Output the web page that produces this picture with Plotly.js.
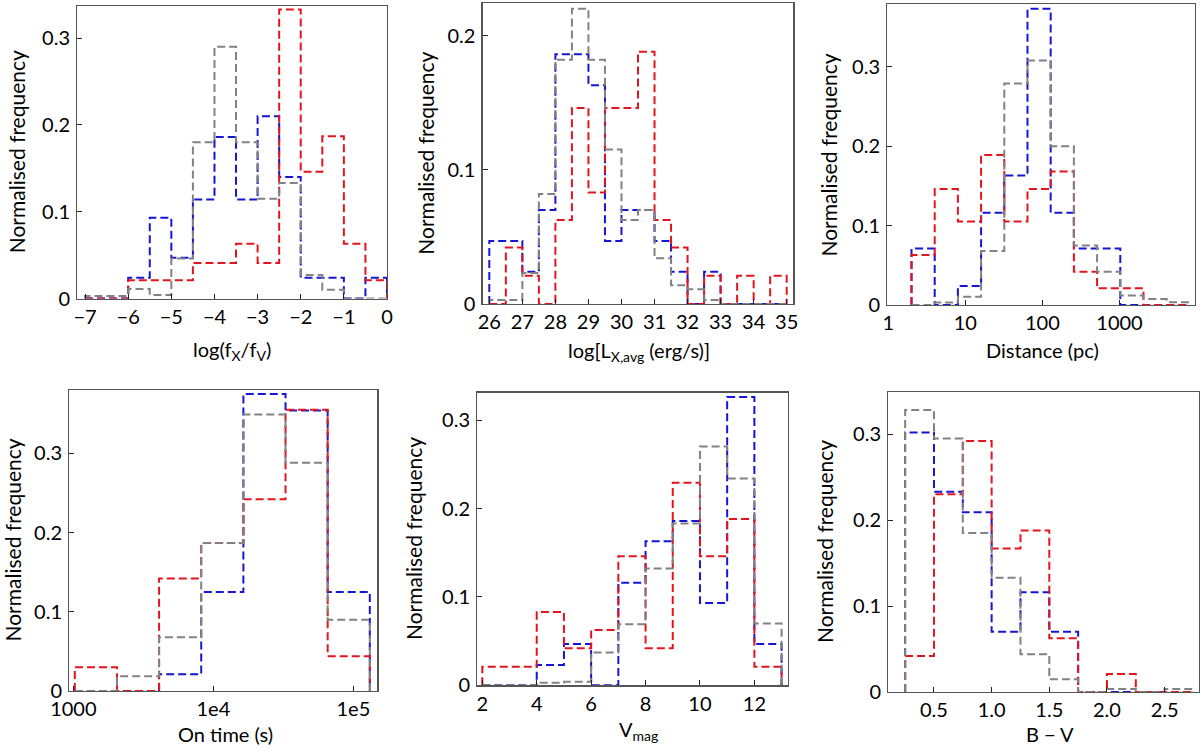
<!DOCTYPE html>
<html>
<head>
<meta charset="utf-8">
<script src="https://cdn.plot.ly/plotly-3.0.1.min.js"></script>
<style>html,body{margin:0;padding:0;background:#fff}#chart{width:1200px;height:748px}</style>
</head>
<body>
<div id="chart"></div>
<script>
// ---------- Panel 1: log(fX/fV) ----------
const fxfvEdges = [-7,-6.5,-6,-5.5,-5,-4.5,-4,-3.5,-3,-2.5,-2,-1.5,-1,-0.5,0];
const fxfvBlue  = [0,0,0.024,0.093,0.047,0.114,0.186,0.114,0.21,0.14,0.024,0.024,0,0.024];
const fxfvRed   = [0,0,0.021,0.021,0.021,0.041,0.041,0.063,0.041,0.333,0.146,0.187,0.063,0.021];
const fxfvGray  = [0.003,0.003,0.011,0.004,0.046,0.18,0.29,0.18,0.115,0.133,0.027,0.01,0,0];

// ---------- Panel 2: log L_X,avg ----------
const lxEdges = [26,26.5,27,27.5,28,28.5,29,29.5,30,30.5,31,31.5,32,32.5,33,33.5,34,34.5,35];
const lxBlue  = [0.047,0.047,0.024,0.07,0.186,0.186,0.163,0.047,0.07,0.07,0.047,0.024,0,0.024,0,0,0,0];
const lxRed   = [0,0.042,0.021,0,0.0625,0.146,0.083,0.146,0.146,0.188,0.0625,0.042,0,0.021,0,0.021,0,0.021];
const lxGray  = [0.003,0.003,0.023,0.082,0.182,0.22,0.182,0.115,0.0625,0.07,0.034,0.014,0.011,0.003,0,0,0,0];

// ---------- Panel 3: Distance (pc) ----------
const distEdges = [2,4,8,16,32,64,128,256,512,1024,2048,4096,8192];
const distBlue  = [0.071,0,0.024,0.116,0.163,0.373,0.116,0.071,0.071,0,0,0];
const distRed   = [0.063,0.146,0.105,0.189,0.105,0.146,0.168,0.042,0.021,0.021,0,0];
const distGray  = [0,0.003,0.0105,0.068,0.279,0.308,0.2,0.075,0.042,0.012,0.0076,0.0034];

// ---------- Panel 4: On time (s) ----------
const timeEdges = [1024,2048,4096,8192,16384,32768,65536,131072];
const timeBlue  = [0,0,0.021,0.125,0.375,0.354,0.125];
const timeRed   = [0.03,0,0.142,0.187,0.242,0.355,0.044];
const timeGray  = [0,0.0185,0.068,0.187,0.349,0.288,0.09];

// ---------- Panel 5: V_mag ----------
const vEdges = [2,3,4,5,6,7,8,9,10,11,12,13];
const vBlue  = [0,0,0.023,0.0467,0,0.116,0.163,0.186,0.093,0.326,0.0467];
const vRed   = [0.021,0.021,0.083,0.042,0.0625,0.146,0.042,0.229,0.146,0.188,0.021];
const vGray  = [0,0,0.003,0.004,0.037,0.069,0.132,0.183,0.27,0.234,0.07];

// ---------- Panel 6: B - V ----------
const bvEdges = [0.25,0.5,0.75,1.0,1.25,1.5,1.75,2.0,2.25,2.5,2.75];
const bvBlue  = [0.302,0.233,0.209,0.07,0.116,0.07,0,0,0,0];
const bvRed   = [0.042,0.23,0.292,0.167,0.188,0.0625,0,0.021,0,0];
const bvGray  = [0.328,0.295,0.185,0.133,0.044,0.0147,0,0.0035,0,0.0035];

// tick labels
const fxfvTicks = [-7,-6,-5,-4,-3,-2,-1,0];
const fxfvTickText = ["−7","−6","−5","−4","−3","−2","−1","0"];
const lxTicks = [26,27,28,29,30,31,32,33,34,35];
const distTicks = [1,10,100,1000];
const distTickText = ["1","10","100","1000"];
const timeTicks = [1000,10000,100000];
const timeTickText = ["1000","1e4","1e5"];
const vTicks = [2,4,6,8,10,12];
const bvTicks = [0.5,1.0,1.5,2.0,2.5];
const bvTickText = ["0.5","1.0","1.5","2.0","2.5"];
const yTicks3 = [0,0.1,0.2,0.3];
const yTickText3 = ["0","0.1","0.2","0.3"];
const yTicks2 = [0,0.1,0.2];
const yTickText2 = ["0","0.1","0.2"];

const xTitles = ["log(f<sub>X</sub>/f<sub>V</sub>)", "log[L<sub>X,avg</sub> (erg/s)]", "Distance (pc)",
                 "On time (s)", "V<sub>mag</sub>", "B − V"];
const yTitle = "Normalised frequency";

const FONT = "Lato, 'Liberation Sans', sans-serif";
const W = 1200, H = 748;
const COL = {blue:"#1515d6", red:"#e3141e", gray:"#828282"};

function stepTrace(edges, vals, color, ax, name){
  const x = [edges[0]], y = [0];
  for (let i = 0; i < vals.length; i++){ x.push(edges[i]); y.push(vals[i]); }
  x.push(edges[edges.length-1]); y.push(0);
  return {type:"scatter", mode:"lines", x:x, y:y, name:name,
          xaxis:"x"+ax, yaxis:"y"+ax, showlegend:false, hoverinfo:"skip",
          line:{shape:"hv", color:color, width:2, dash:"8px,4px"}};
}

const panels = [
  {e:fxfvEdges, b:fxfvBlue, r:fxfvRed, g:fxfvGray},
  {e:lxEdges, b:lxBlue, r:lxRed, g:lxGray},
  {e:distEdges, b:distBlue, r:distRed, g:distGray},
  {e:timeEdges, b:timeBlue, r:timeRed, g:timeGray},
  {e:vEdges, b:vBlue, r:vRed, g:vGray},
  {e:bvEdges, b:bvBlue, r:bvRed, g:bvGray}
];

const traces = [];
panels.forEach((p, i) => {
  const ax = i === 0 ? "" : String(i+1);
  traces.push(stepTrace(p.e, p.b, COL.blue, ax, "blue"));
  traces.push(stepTrace(p.e, p.r, COL.red, ax, "red"));
  traces.push(stepTrace(p.e, p.g, COL.gray, ax, "gray"));
});

// pixel boxes [left, right, top, bottom]
const boxes = [
  [77.3, 387, 6, 298.5],
  [482.7, 793.3, 3.3, 304],
  [887.3, 1195, 4, 305],
  [69.3, 377.3, 390, 691],
  [477.3, 787.7, 392.7, 685.3],
  [888.3, 1199, 392, 692]
];
const xCfg = [
  {type:"linear", range:[-7.18,0], tickvals:fxfvTicks, ticktext:fxfvTickText},
  {type:"linear", range:[25.8,35.2], tickvals:lxTicks},
  {type:"log", range:[-0.013,3.98], tickvals:distTicks, ticktext:distTickText},
  {type:"log", range:[2.971,5.171], tickvals:timeTicks, ticktext:timeTickText},
  {type:"linear", range:[1.816,13.225], tickvals:vTicks},
  {type:"linear", range:[0.104,2.798], tickvals:bvTicks, ticktext:bvTickText}
];
const yCfg = [
  {range:[0,0.337], tickvals:yTicks3, ticktext:yTickText3},
  {range:[0,0.224], tickvals:yTicks2, ticktext:yTickText2},
  {range:[0,0.379], tickvals:yTicks3, ticktext:yTickText3},
  {range:[0,0.38], tickvals:yTicks3, ticktext:yTickText3},
  {range:[0,0.331], tickvals:yTicks3, ticktext:yTickText3},
  {range:[0,0.349], tickvals:yTicks3, ticktext:yTickText3}
];
// title positions (pixels)
const xTitlePos = [[232,350],[639,351],[1042,350],[225,734],[638,730],[1050,734]];
const yTitleX = [16, 426, 828, 12, 413, 824];

const layout = {
  width:W, height:H, margin:{l:0,r:0,t:0,b:0},
  paper_bgcolor:"#fff", plot_bgcolor:"#fff",
  font:{family:FONT, size:20, color:"#000"},
  showlegend:false, annotations:[]
};
const common = {showgrid:false, zeroline:false, showline:true, mirror:true,
  linecolor:"#555", linewidth:1.3, ticks:"inside", ticklen:5, tickwidth:1, tickcolor:"#222",
  tickfont:{family:FONT, size:20, color:"#000"}, fixedrange:true};

boxes.forEach((bx, i) => {
  const k = i === 0 ? "" : String(i+1);
  layout["xaxis"+k] = Object.assign({}, common, xCfg[i], {
    domain:[bx[0]/W, bx[1]/W], anchor:"y"+k, autorange:false});
  layout["yaxis"+k] = Object.assign({}, common, yCfg[i], {
    domain:[1-bx[3]/H, 1-bx[2]/H], anchor:"x"+k, autorange:false, ticklabelstandoff:2});
  const yc = (bx[2]+bx[3])/2;
  layout.annotations.push({text:xTitles[i], xref:"paper", yref:"paper",
    x:xTitlePos[i][0]/W, y:1-xTitlePos[i][1]/H, xanchor:"center", yanchor:"middle",
    showarrow:false, font:{family:FONT, size:20, color:"#000"}});
  layout.annotations.push({text:yTitle, xref:"paper", yref:"paper",
    x:yTitleX[i]/W, y:1-yc/H, xanchor:"center", yanchor:"middle", textangle:-90,
    showarrow:false, font:{family:FONT, size:21, color:"#000"}});
});

Plotly.newPlot("chart", traces, layout, {displayModeBar:false, staticPlot:true});
</script>
</body>
</html>
